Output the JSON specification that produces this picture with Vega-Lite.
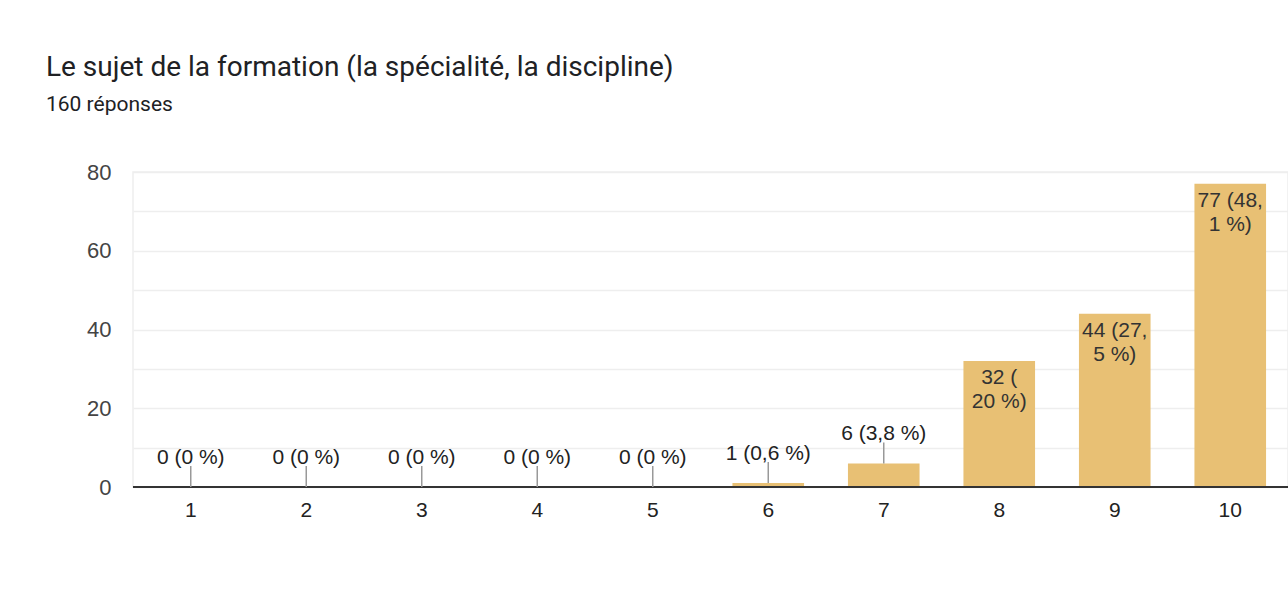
{
  "$schema": "https://vega.github.io/schema/vega-lite/v6.json",
  "width": 1155,
  "height": 315,
  "autosize": {"type": "none"},
  "padding": {"left": 133, "top": 172, "right": 0, "bottom": 125},
  "background": "#ffffff",
  "config": {
    "view": {"stroke": "#eeeeee", "strokeWidth": 1.5},
    "font": "Liberation Sans"
  },
  "title": {
    "text": "Le sujet de la formation (la spécialité, la discipline)",
    "subtitle": "160 réponses",
    "anchor": "start",
    "frame": "group",
    "dx": -87,
    "offset": 46,
    "font": "Roboto",
    "fontSize": 28,
    "fontWeight": "normal",
    "color": "#202124",
    "subtitleFont": "Roboto",
    "subtitleFontSize": 21,
    "subtitleColor": "#202124",
    "subtitlePadding": 12
  },
  "data": {
    "values": [
      {"option": "1", "count": 0, "label": "0 (0 %)"},
      {"option": "2", "count": 0, "label": "0 (0 %)"},
      {"option": "3", "count": 0, "label": "0 (0 %)"},
      {"option": "4", "count": 0, "label": "0 (0 %)"},
      {"option": "5", "count": 0, "label": "0 (0 %)"},
      {"option": "6", "count": 1, "label": "1 (0,6 %)"},
      {"option": "7", "count": 6, "label": "6 (3,8 %)"},
      {"option": "8", "count": 32, "label": "32 (\n20 %)"},
      {"option": "9", "count": 44, "label": "44 (27,\n5 %)"},
      {"option": "10", "count": 77, "label": "77 (48,\n1 %)"}
    ]
  },
  "encoding": {
    "x": {
      "field": "option",
      "type": "ordinal",
      "sort": null,
      "scale": {"paddingInner": 0.38, "paddingOuter": 0.19},
      "axis": {
        "title": null,
        "labelAngle": 0,
        "labelFontSize": 21,
        "labelColor": "#222222",
        "labelPadding": 12,
        "ticks": false,
        "domain": false,
        "grid": false
      }
    },
    "y": {
      "field": "count",
      "type": "quantitative",
      "scale": {"domain": [0, 80], "nice": false},
      "axis": {
        "title": null,
        "values": [0, 10, 20, 30, 40, 50, 60, 70, 80],
        "labelExpr": "datum.value % 20 === 0 ? datum.label : ''",
        "labelFontSize": 22,
        "labelColor": "#444444",
        "labelPadding": 22,
        "ticks": false,
        "domain": false,
        "grid": true,
        "gridColor": "#eeeeee",
        "gridWidth": 1.5
      }
    }
  },
  "layer": [
    {
      "mark": {"type": "bar", "color": "#e8c074"}
    },
    {
      "mark": {"type": "rule", "color": "#333333", "strokeWidth": 2},
      "encoding": {
        "x": {"value": 0},
        "x2": {"value": 1155},
        "y": {"datum": 0}
      }
    },
    {
      "transform": [{"filter": "datum.count < 20"}],
      "mark": {"type": "rule", "color": "#999999", "strokeWidth": 1.5, "y2Offset": -21},
      "encoding": {
        "y2": {"field": "count"}
      }
    },
    {
      "transform": [{"filter": "datum.count < 20"}],
      "mark": {"type": "text", "baseline": "alphabetic", "dy": -23, "fontSize": 21, "color": "#222222"},
      "encoding": {"text": {"field": "label"}}
    },
    {
      "transform": [{"filter": "datum.count >= 20"}],
      "mark": {"type": "text", "baseline": "top", "dy": 6, "fontSize": 21, "lineHeight": 24, "lineBreak": "\n", "color": "#333333"},
      "encoding": {"text": {"field": "label"}}
    }
  ]
}
